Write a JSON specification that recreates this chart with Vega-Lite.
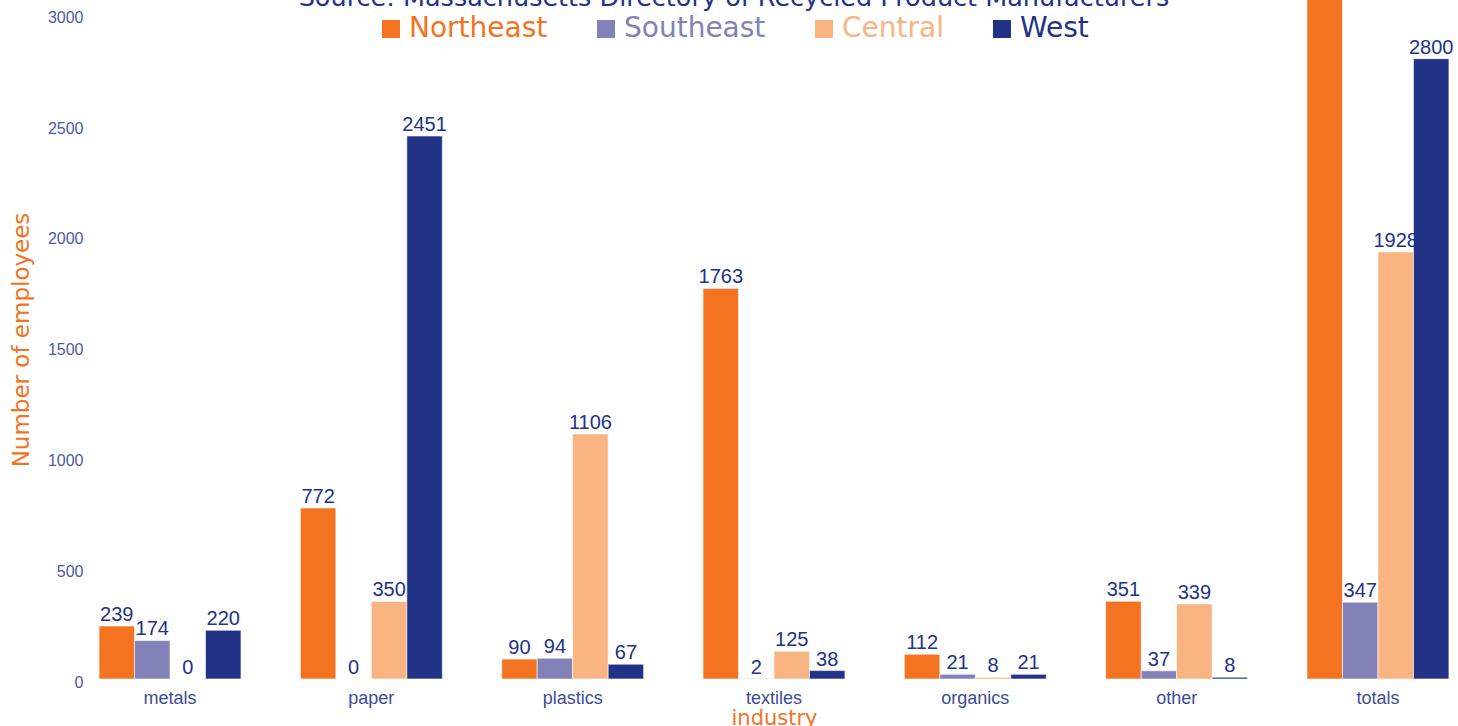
{
  "$schema": "https://vega.github.io/schema/vega-lite/v6.json",
  "width": 1366,
  "height": 679,
  "autosize": {"type": "none"},
  "padding": {"left": 91, "top": 0, "right": 1, "bottom": 47},
  "background": "white",
  "title": {
    "text": "Source: Massachusetts Directory of Recycled Product Manufacturers",
    "frame": "group",
    "anchor": "middle",
    "dx": -40,
    "dy": 31,
    "offset": 0,
    "baseline": "alphabetic",
    "fontSize": 25.5,
    "font": "DejaVu Sans",
    "fontWeight": "normal",
    "color": "#21338A"
  },
  "data": {
    "values": [
      {"industry": "metals", "region": "Northeast", "employees": 239},
      {"industry": "metals", "region": "Southeast", "employees": 174},
      {"industry": "metals", "region": "Central", "employees": 0},
      {"industry": "metals", "region": "West", "employees": 220},
      {"industry": "paper", "region": "Northeast", "employees": 772},
      {"industry": "paper", "region": "Southeast", "employees": 0},
      {"industry": "paper", "region": "Central", "employees": 350},
      {"industry": "paper", "region": "West", "employees": 2451},
      {"industry": "plastics", "region": "Northeast", "employees": 90},
      {"industry": "plastics", "region": "Southeast", "employees": 94},
      {"industry": "plastics", "region": "Central", "employees": 1106},
      {"industry": "plastics", "region": "West", "employees": 67},
      {"industry": "textiles", "region": "Northeast", "employees": 1763},
      {"industry": "textiles", "region": "Southeast", "employees": 2},
      {"industry": "textiles", "region": "Central", "employees": 125},
      {"industry": "textiles", "region": "West", "employees": 38},
      {"industry": "organics", "region": "Northeast", "employees": 112},
      {"industry": "organics", "region": "Southeast", "employees": 21},
      {"industry": "organics", "region": "Central", "employees": 8},
      {"industry": "organics", "region": "West", "employees": 21},
      {"industry": "other", "region": "Northeast", "employees": 351},
      {"industry": "other", "region": "Southeast", "employees": 37},
      {"industry": "other", "region": "Central", "employees": 339},
      {"industry": "other", "region": "West", "employees": 8},
      {"industry": "totals", "region": "Northeast", "employees": 3327},
      {"industry": "totals", "region": "Southeast", "employees": 347},
      {"industry": "totals", "region": "Central", "employees": 1928},
      {"industry": "totals", "region": "West", "employees": 2800}
    ]
  },
  "encoding": {
    "x": {
      "field": "industry",
      "type": "nominal",
      "sort": ["metals", "paper", "plastics", "textiles", "organics", "other", "totals"],
      "scale": {"paddingInner": 0.295, "paddingOuter": 0.04},
      "title": "industry",
      "axis": {
        "labelAngle": 0,
        "ticks": false,
        "domain": false,
        "grid": false,
        "labelFont": "Liberation Sans",
        "labelFontSize": 18,
        "labelColor": "#3d4c9a",
        "labelPadding": 10,
        "titleFont": "DejaVu Sans",
        "titleFontSize": 21,
        "titleFontWeight": "normal",
        "titleColor": "#F47321",
        "titlePadding": 0
      }
    },
    "xOffset": {
      "field": "region",
      "type": "nominal",
      "sort": ["Northeast", "Southeast", "Central", "West"],
      "scale": {"paddingInner": 0, "paddingOuter": 0}
    },
    "y": {
      "field": "employees",
      "type": "quantitative",
      "scale": {"domain": [0, 3065], "nice": false, "zero": true},
      "title": "Number of employees",
      "axis": {
        "values": [0, 500, 1000, 1500, 2000, 2500, 3000],
        "ticks": false,
        "domain": false,
        "grid": false,
        "labelFont": "Liberation Sans",
        "labelFontSize": 16,
        "labelColor": "#4b5aa5",
        "labelPadding": 8,
        "labelOffset": 3,
        "format": "d",
        "titleFont": "DejaVu Sans",
        "titleFontSize": 23,
        "titleFontWeight": "normal",
        "titleColor": "#F47321",
        "titlePadding": 14
      }
    }
  },
  "layer": [
    {
      "mark": {"type": "bar", "clip": true, "stroke": "white", "strokeWidth": 0.6},
      "encoding": {
        "color": {
          "field": "region",
          "type": "nominal",
          "scale": {
            "domain": ["Northeast", "Southeast", "Central", "West"],
            "range": ["#F47321", "#8281B8", "#F9B482", "#213287"]
          },
          "legend": {
            "title": null,
            "orient": "none",
            "direction": "horizontal",
            "legendX": 286,
            "legendY": 15,
            "padding": 0,
            "symbolType": "square",
            "symbolSize": 324,
            "symbolStrokeWidth": 0,
            "labelFont": "DejaVu Sans",
            "labelFontSize": 28,
            "labelOffset": 4,
            "columnPadding": 44,
            "labelColor": {"expr": "scale('color', datum.value)"}
          }
        }
      }
    },
    {
      "transform": [{"filter": "datum.employees < 3065"}],
      "mark": {
        "type": "text",
        "clip": true,
        "dy": -5,
        "baseline": "alphabetic",
        "font": "Liberation Sans",
        "fontSize": 20,
        "color": "#21338A"
      },
      "encoding": {"text": {"field": "employees", "type": "quantitative", "format": "d"}}
    }
  ],
  "config": {"view": {"stroke": null}}
}
